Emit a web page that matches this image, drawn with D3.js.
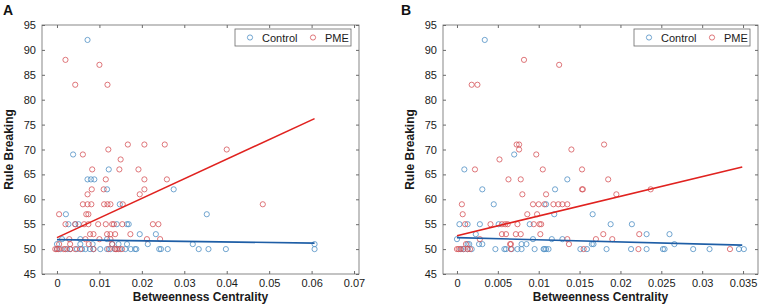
<!DOCTYPE html>
<html>
<head>
<meta charset="utf-8">
<script src="https://cdn.jsdelivr.net/npm/d3@7"></script>
<style>
  body { margin: 0; background: #fff; }
  svg { display: block; font-family: "Liberation Sans", Arial, sans-serif; }
  .tick text { font-size: 11px; fill: #1a1a1a; }
  .axis-title { font-size: 12px; font-weight: bold; fill: #1a1a1a; }
</style>
</head>
<body>
<div id="chart"></div>
<script>
// --- data: [betweenness centrality, rule breaking] ---
const aControl = [
  [0.0072, 92], [0.0038, 69], [0.0072, 64], [0.0080, 64], [0.0088, 64], [0.0122, 66],
  [0.0118, 62], [0.0275, 62], [0.0148, 59], [0.0021, 57], [0.0353, 57],
  [0.0027, 55], [0.0043, 55], [0.0051, 55], [0.0141, 55], [0.0165, 55], [0.0169, 55],
  [0.0195, 53], [0.0233, 53], [0.0012, 52], [0.0055, 52], [0.0118, 52],
  [0.0, 51], [0.0055, 51], [0.0084, 51], [0.0130, 51], [0.0145, 51], [0.0165, 51],
  [0.0214, 51], [0.0320, 51], [0.0607, 51],
  [0.0, 50], [0.0008, 50], [0.0024, 50], [0.0031, 50], [0.0047, 50], [0.0059, 50],
  [0.0067, 50], [0.0078, 50], [0.0086, 50], [0.0102, 50], [0.0118, 50], [0.0126, 50],
  [0.0137, 50], [0.0149, 50], [0.0161, 50], [0.0174, 50], [0.0184, 50], [0.0187, 50],
  [0.0241, 50], [0.0245, 50], [0.0261, 50], [0.0334, 50], [0.0357, 50], [0.0398, 50],
  [0.0607, 50]
];
const aPME = [
  [0.0020, 88], [0.0100, 87], [0.0043, 83], [0.0119, 83],
  [0.0167, 71], [0.0206, 71], [0.0254, 71], [0.0121, 70], [0.0400, 70],
  [0.0061, 69], [0.0150, 68], [0.0083, 66], [0.0147, 66], [0.0192, 66],
  [0.0115, 64], [0.0206, 64], [0.0259, 64], [0.0082, 62], [0.0110, 62], [0.0206, 62],
  [0.0072, 61], [0.0195, 61],
  [0.0061, 59], [0.0072, 59], [0.0081, 59], [0.0111, 59], [0.0119, 59], [0.0126, 59],
  [0.0155, 59], [0.0485, 59], [0.0005, 57], [0.0069, 57], [0.0074, 57],
  [0.0020, 55], [0.0043, 55], [0.0064, 55], [0.0074, 55], [0.0097, 55], [0.0115, 55],
  [0.0130, 55], [0.0134, 55], [0.0154, 55], [0.0226, 55], [0.0239, 55],
  [0.0078, 53], [0.0086, 53], [0.0118, 53], [0.0126, 53], [0.0137, 53], [0.0173, 53],
  [0.0029, 52], [0.0067, 52], [0.0100, 52], [0.0126, 52], [0.0212, 52], [0.0243, 52],
  [0.0005, 51], [0.0031, 51], [0.0075, 51], [0.0130, 51],
  [-0.0004, 50], [0.0, 50], [0.0004, 50], [0.0016, 50], [0.0020, 50], [0.0031, 50],
  [0.0043, 50], [0.0055, 50], [0.0086, 50], [0.0122, 50], [0.0137, 50], [0.0141, 50],
  [0.0145, 50], [0.0153, 50]
];
const bControl = [
  [0.0034, 92], [0.0070, 69], [0.0009, 66], [0.0135, 64], [0.0031, 62], [0.0120, 62],
  [0.0045, 59], [0.0109, 59], [0.0119, 57], [0.0166, 57],
  [0.0003, 55], [0.0013, 55], [0.0028, 55], [0.0051, 55], [0.0089, 55], [0.0188, 55], [0.0214, 55],
  [0.0023, 53], [0.0232, 53], [0.0260, 53],
  [0.0, 52], [0.0093, 52], [0.0116, 52], [0.0129, 52],
  [0.0013, 51], [0.0015, 51], [0.0027, 51], [0.0031, 51], [0.0079, 51], [0.0085, 51],
  [0.0165, 51], [0.0167, 51], [0.0266, 51],
  [0.0005, 50], [0.0008, 50], [0.0013, 50], [0.0018, 50], [0.0047, 50], [0.0058, 50],
  [0.0060, 50], [0.0067, 50], [0.0074, 50], [0.0079, 50], [0.0095, 50], [0.0106, 50],
  [0.0107, 50], [0.0109, 50], [0.0112, 50], [0.0151, 50], [0.0159, 50], [0.0183, 50],
  [0.0213, 50], [0.0232, 50], [0.0252, 50], [0.0254, 50], [0.0289, 50], [0.0309, 50],
  [0.0345, 50], [0.0351, 50]
];
const bPME = [
  [0.0082, 88], [0.0125, 87], [0.0018, 83], [0.0025, 83],
  [0.0073, 71], [0.0076, 71], [0.0180, 71], [0.0076, 70], [0.0140, 70], [0.0097, 69],
  [0.0052, 68], [0.0022, 66], [0.0105, 66], [0.0153, 66],
  [0.0063, 64], [0.0078, 64], [0.0185, 64], [0.0153, 62], [0.0154, 62], [0.0237, 62],
  [0.0080, 61], [0.0109, 61], [0.0195, 61],
  [0.0006, 59], [0.0093, 59], [0.0100, 59], [0.0107, 59], [0.0118, 59], [0.0124, 59],
  [0.0129, 59], [0.0135, 59], [0.0007, 57], [0.0086, 57], [0.0098, 57],
  [0.0010, 55], [0.0041, 55], [0.0055, 55], [0.0059, 55], [0.0062, 55], [0.0074, 55],
  [0.0094, 55], [0.0101, 55], [0.0103, 55],
  [0.0055, 53], [0.0060, 53], [0.0072, 53], [0.0078, 53], [0.0102, 53], [0.0179, 53], [0.0223, 53],
  [0.0028, 52], [0.0135, 52], [0.0170, 52], [0.0190, 52],
  [0.0011, 51], [0.0065, 51], [0.0066, 51], [0.0137, 51],
  [0.0, 50], [0.0002, 50], [0.0004, 50], [0.0008, 50], [0.0013, 50], [0.0016, 50],
  [0.0066, 50], [0.0155, 50], [0.0222, 50], [0.0334, 50]
];
// fitted lines (end points)
const aFitControl = [[0, 51.9], [0.0607, 51.2]];
const aFitPME = [[0, 52.3], [0.0607, 76.2]];
const bFitControl = [[0, 52.3], [0.0349, 50.8]];
const bFitPME = [[0, 52.7], [0.0349, 66.5]];

const aTicks = [0, 0.01, 0.02, 0.03, 0.04, 0.05, 0.06, 0.07];
const bTicks = [0, 0.005, 0.01, 0.015, 0.02, 0.025, 0.03, 0.035];
const yTicks = [45, 50, 55, 60, 65, 70, 75, 80, 85, 90, 95];
const seriesNames = ["Control", "PME"];

const colors = { Control: "#4f8fc4", PME: "#d65459", fitControl: "#1e5ea6", fitPME: "#e0221f" };

const svg = d3.select("#chart").append("svg")
    .attr("width", 760)
    .attr("height", 308);

function drawPanel(opt) {
  const x = d3.scaleLinear().domain(opt.xDomain).range([opt.left, opt.right]);
  const y = d3.scaleLinear().domain([45, 95]).range([274, 25]);
  const g = svg.append("g");

  // box
  g.append("rect")
    .attr("x", opt.left).attr("y", 25)
    .attr("width", opt.right - opt.left).attr("height", 249)
    .attr("fill", "none").attr("stroke", "#6a6a6a").attr("stroke-width", 0.8);

  const fmt = d => String(d);
  g.append("g")
    .attr("transform", "translate(0,274)")
    .call(d3.axisBottom(x).tickValues(opt.xTicks).tickFormat(fmt).tickSizeInner(-3).tickSizeOuter(0).tickPadding(5))
    .call(a => a.select(".domain").remove())
    .call(a => a.selectAll("line").attr("stroke", "#6a6a6a"));
  g.append("g")
    .attr("transform", "translate(0,25)")
    .call(d3.axisTop(x).tickValues(opt.xTicks).tickFormat("").tickSizeInner(-3).tickSizeOuter(0))
    .call(a => a.select(".domain").remove())
    .call(a => a.selectAll("line").attr("stroke", "#6a6a6a"));
  g.append("g")
    .attr("transform", `translate(${opt.left},0)`)
    .call(d3.axisLeft(y).tickValues(yTicks).tickSizeInner(-3).tickSizeOuter(0).tickPadding(6))
    .call(a => a.select(".domain").remove())
    .call(a => a.selectAll("line").attr("stroke", "#6a6a6a"));
  g.append("g")
    .attr("transform", `translate(${opt.right},0)`)
    .call(d3.axisRight(y).tickValues(yTicks).tickFormat("").tickSizeInner(-3).tickSizeOuter(0))
    .call(a => a.select(".domain").remove())
    .call(a => a.selectAll("line").attr("stroke", "#6a6a6a"));
  g.selectAll(".tick text").attr("font-size", null);

  // scatter
  [[opt.control, colors.Control], [opt.pme, colors.PME]].forEach(([pts, c]) => {
    g.append("g").selectAll("circle").data(pts).join("circle")
      .attr("cx", d => x(d[0])).attr("cy", d => y(d[1]))
      .attr("r", 2.6)
      .attr("fill", "none").attr("stroke", c).attr("stroke-width", 0.8);
  });

  // fit lines
  const line = d3.line().x(d => x(d[0])).y(d => y(d[1]));
  g.append("path").datum(opt.fitControl).attr("d", line)
    .attr("fill", "none").attr("stroke", colors.fitControl).attr("stroke-width", 1.6);
  g.append("path").datum(opt.fitPME).attr("d", line)
    .attr("fill", "none").attr("stroke", colors.fitPME).attr("stroke-width", 1.6);

  // titles
  g.append("text").attr("class", "axis-title")
    .attr("x", (opt.left + opt.right) / 2).attr("y", 301)
    .attr("text-anchor", "middle").text("Betweenness Centrality");
  g.append("text").attr("class", "axis-title")
    .attr("transform", `translate(${opt.left - 29},${(25 + 274) / 2}) rotate(-90)`)
    .attr("text-anchor", "middle").text("Rule Breaking");
  g.append("text")
    .attr("x", opt.labelX).attr("y", 15)
    .attr("font-size", 14).attr("font-weight", "bold").attr("fill", "#111")
    .text(opt.label);

  // legend
  const lx = opt.right - 124, ly = 29;
  const lg = g.append("g").attr("transform", `translate(${lx},${ly})`);
  lg.append("rect").attr("width", 116).attr("height", 17)
    .attr("fill", "#fff").attr("stroke", "#6a6a6a").attr("stroke-width", 0.8);
  seriesNames.forEach((name, i) => {
    const ox = 15 + i * 63;
    lg.append("circle").attr("cx", ox).attr("cy", 8.5).attr("r", 2.6)
      .attr("fill", "none").attr("stroke", colors[name]).attr("stroke-width", 0.8);
    lg.append("text").attr("x", ox + 12).attr("y", 12.5)
      .attr("font-size", 11).attr("fill", "#1a1a1a").text(name);
  });
}

drawPanel({
  label: "A", labelX: 3, left: 42, right: 359,
  xDomain: [-0.00353, 0.07117], xTicks: aTicks,
  control: aControl, pme: aPME, fitControl: aFitControl, fitPME: aFitPME
});
drawPanel({
  label: "B", labelX: 401, left: 443, right: 758,
  xDomain: [-0.00171, 0.03683], xTicks: bTicks,
  control: bControl, pme: bPME, fitControl: bFitControl, fitPME: bFitPME
});
</script>
</body>
</html>
